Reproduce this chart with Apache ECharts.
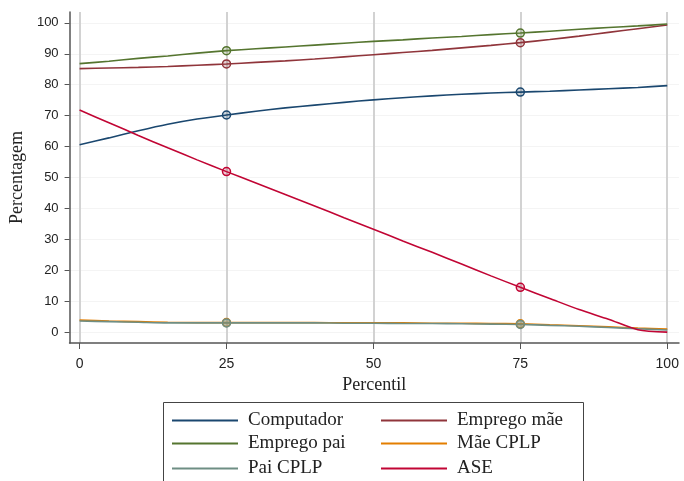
<!DOCTYPE html>
<html>
<head>
<meta charset="utf-8">
<script src="https://cdn.jsdelivr.net/npm/echarts@6/dist/echarts.min.js"></script>
<style>
  html, body { margin: 0; padding: 0; background: #fff; }
  #chart { width: 684px; height: 481px; }
</style>
</head>
<body>
<div id="chart"></div>
<script>
// Percentiles along the x axis
const percentis = [0, 5, 10, 15, 20, 25, 30, 35, 40, 45, 50, 55, 60, 65, 70, 75, 80, 85, 90, 95, 100];

// Shares (%) for each indicator at each percentile
const computador = [60.6, 62.8, 65.1, 67.2, 68.9, 70.2, 71.4, 72.5, 73.4, 74.3, 75.1, 75.8, 76.4, 76.9, 77.3, 77.6, 77.9, 78.3, 78.7, 79.1, 79.7];
const empregoMae = [85.2, 85.4, 85.6, 85.9, 86.3, 86.7, 87.2, 87.7, 88.3, 89.0, 89.7, 90.4, 91.1, 91.9, 92.7, 93.6, 94.6, 95.7, 96.9, 98.1, 99.3];
const empregoPai = [86.8, 87.6, 88.5, 89.3, 90.2, 91.0, 91.6, 92.2, 92.8, 93.4, 94.0, 94.5, 95.1, 95.6, 96.2, 96.7, 97.3, 97.9, 98.5, 99.0, 99.6];
const maeCPLP    = [3.9, 3.6, 3.4, 3.2, 3.1, 3.1, 3.1, 3.1, 3.1, 3.0, 3.0, 3.0, 2.9, 2.9, 2.8, 2.7, 2.4, 2.1, 1.7, 1.3, 1.0];
const paiCPLP    = [3.6, 3.4, 3.2, 3.0, 3.0, 3.0, 3.0, 3.0, 3.0, 2.9, 2.9, 2.8, 2.8, 2.7, 2.6, 2.5, 2.2, 1.9, 1.5, 1.1, 0.7];
const ase        = [71.8, 67.7, 63.6, 59.6, 55.7, 51.9, 48.2, 44.5, 40.8, 37.0, 33.3, 29.5, 25.8, 22.0, 18.2, 14.5, 10.9, 7.3, 4.2, 0.8, 0.0];

// Percentiles that get a circle marker
const marcados = [25, 75];

const xTicks = [0, 25, 50, 75, 100];
const yTicks = [0, 10, 20, 30, 40, 50, 60, 70, 80, 90, 100];

const serif = '"Liberation Serif", "DejaVu Serif", serif';
const sans = '"Liberation Sans", Arial, sans-serif';

const seriesDefs = [
  { name: 'Computador',   values: computador, color: '#1a476f', fill: 'rgba(26,71,111,0.22)' },
  { name: 'Emprego mãe',  values: empregoMae, color: '#90353b', fill: 'rgba(144,53,59,0.22)' },
  { name: 'Emprego pai',  values: empregoPai, color: '#55752f', fill: 'rgba(85,117,47,0.22)' },
  { name: 'Mãe CPLP',     values: maeCPLP,    color: '#e37e00', fill: 'rgba(227,126,0,0.22)' },
  { name: 'Pai CPLP',     values: paiCPLP,    color: '#6e8e84', fill: 'rgba(110,142,132,0.45)' },
  { name: 'ASE',          values: ase,        color: '#c10534', fill: 'rgba(193,5,52,0.22)' }
];

function buildData(def) {
  return percentis.map((p, i) => {
    if (marcados.indexOf(p) >= 0) {
      return {
        value: [p, def.values[i]],
        symbol: 'circle',
        symbolSize: 8,
        itemStyle: { color: def.fill, borderColor: def.color, borderWidth: 1.5 }
      };
    }
    return { value: [p, def.values[i]], symbol: 'none' };
  });
}

const series = seriesDefs.map(def => ({
  name: def.name,
  type: 'line',
  data: buildData(def),
  smooth: 0.25,
  showSymbol: true,
  color: def.color,
  lineStyle: { color: def.color, width: 1.6 },
  emphasis: { disabled: true },
  z: 3
}));

// Legend: two columns, three rows, one legend component per entry
const legendCols = [172, 381];
const legendRows = [411, 434, 459];
const legendOrder = [
  ['Computador', 'Emprego mãe'],
  ['Emprego pai', 'Mãe CPLP'],
  ['Pai CPLP', 'ASE']
];
const legends = [];
legendOrder.forEach((row, r) => {
  row.forEach((name, c) => {
    legends.push({
      left: legendCols[c], top: legendRows[r], padding: 0,
      icon: 'rect', itemWidth: 66, itemHeight: 2,
      data: [name], selectedMode: false,
      textStyle: { fontFamily: serif, fontSize: 19, color: '#222', padding: [0, 0, 0, 5] }
    });
  });
});

const option = {
  animation: false,
  backgroundColor: '#ffffff',
  grid: { left: 69, right: 5, top: 12, bottom: 138, containLabel: false },
  xAxis: {
    type: 'value',
    min: -1.7,
    max: 102,
    name: 'Percentil',
    nameLocation: 'middle',
    nameGap: 30,
    nameTextStyle: { fontFamily: serif, fontSize: 18, color: '#222' },
    axisLine: { show: true, onZero: false, lineStyle: { color: '#555', width: 1.5 } },
    axisTick: { show: true, length: 6, customValues: xTicks, lineStyle: { color: '#555' } },
    axisLabel: { customValues: xTicks, fontFamily: sans, fontSize: 14, color: '#222', margin: 14 },
    splitLine: { show: true, lineStyle: { color: '#d2d2d2', width: 2 } }
  },
  yAxis: {
    type: 'value',
    min: -3.5,
    max: 103.5,
    name: 'Percentagem',
    nameLocation: 'middle',
    nameGap: 43,
    nameTextStyle: { fontFamily: serif, fontSize: 18, color: '#222' },
    axisLine: { show: true, onZero: false, lineStyle: { color: '#555', width: 1.5 } },
    axisTick: { show: true, length: 5, customValues: yTicks, lineStyle: { color: '#555' } },
    axisLabel: { customValues: yTicks, fontFamily: sans, fontSize: 13, color: '#222', margin: 11 },
    splitLine: { show: true, lineStyle: { color: '#f4f4f4', width: 1 } }
  },
  legend: legends,
  graphic: [
    {
      type: 'rect',
      shape: { x: 163.5, y: 402.5, width: 420, height: 100 },
      style: { fill: 'none', stroke: '#444', lineWidth: 1 },
      silent: true
    }
  ],
  series: series
};

const chart = echarts.init(document.getElementById('chart'), null, { renderer: 'canvas' });
chart.setOption(option);
</script>
</body>
</html>
